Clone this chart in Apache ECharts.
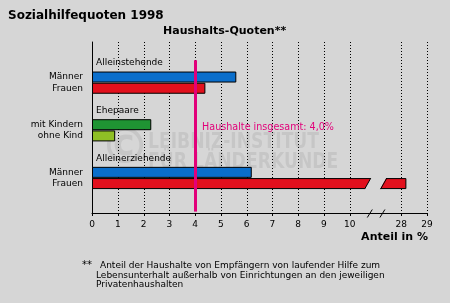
<!DOCTYPE html>
<html><head><meta charset="utf-8">
<script src="https://cdn.jsdelivr.net/npm/echarts@6/dist/echarts.min.js"></script>
<style>html,body{margin:0;padding:0;background:#d6d6d6}#c{width:450px;height:303px}</style>
</head><body><div id="c"></div>
<script>
// ---------------- data ----------------
const groupLabels = ['Alleinstehende', 'Ehepaare', 'Alleinerziehende'];
const rowLabels = ['Männer', 'Frauen', 'mit Kindern', 'ohne Kind', 'Männer', 'Frauen'];
const rowValues = [5.6, 4.4, 2.3, 0.9, 6.2, 28.2];
const tickLabels = ['0', '1', '2', '3', '4', '5', '6', '7', '8', '9', '10', '', '28', '29'];
const totalValue = 4.0;
const totalLabel = 'Haushalte insgesamt: 4,0%';
const titleText = 'Sozialhilfequoten 1998';
const subtitleText = 'Haushalts-Quoten**';
const axisNameText = 'Anteil in %';
const footnoteLines = [
  'Anteil der Haushalte von Empfängern von laufender Hilfe zum',
  'Lebensunterhalt außerhalb von Einrichtungen an den jeweiligen',
  'Privatenhaushalten'
];

// ---------------- layout / style ----------------
const rowColors = ['#0a6ecb', '#e2101d', '#1f9433', '#8fbf25', '#0a6ecb', '#e2101d'];
const N = 61;                       // fine slots on the category axis
const rowSlots = [12, 16, 29, 33, 46, 50];
const headerSlots = [7, 24, 41];
const refTopSlot = 6, refBottomSlot = 60, refLabelSlot = 30;
const BG = '#d6d6d6';
const MAG = '#e2007a';
const FONT = 'DejaVu Sans';
const WM = 'rgba(0,0,0,0.075)';

// axis break: positions after the empty tick map to values 28, 29
const breakIdx = tickLabels.indexOf('');
const afterBreakStart = Number(tickLabels[breakIdx + 1]);
function toDisplay(v) {
  const lastBefore = Number(tickLabels[breakIdx - 1]);
  return v <= lastBefore ? v : (breakIdx + 1) + (v - afterBreakStart);
}

const ids = Array.from({length: N}, (_, i) => 's' + i);
const rowBySlot = {}, headerBySlot = {};
rowSlots.forEach((s, r) => rowBySlot[ids[s]] = rowLabels[r]);
headerSlots.forEach((s, g) => headerBySlot[ids[s]] = groupLabels[g]);

const barData = ids.map(() => '-');
rowSlots.forEach((s, r) => {
  barData[s] = {value: toDisplay(rowValues[r]), itemStyle: {color: rowColors[r]}};
});

const splitVals = tickLabels.map((t, i) => (t !== '' && i > 0) ? i : null).filter(v => v !== null);

const chart = echarts.init(document.getElementById('c'), null, {renderer: 'canvas'});

const tStyle = (size, weight) => ({fontFamily: FONT, fontSize: size, fontWeight: weight, color: '#000'});

chart.setOption({
  backgroundColor: BG,
  animation: false,
  title: [
    {text: titleText, left: 8, top: 10, padding: 0, textStyle: tStyle(12, 'bold')},
    {text: subtitleText, left: 163, top: 26, padding: 0, textStyle: tStyle(11, 'bold')},
    {text: axisNameText, right: 22, top: 232, padding: 0, textStyle: tStyle(11, 'bold')},
    {text: '**', left: 82, top: 260, padding: 0, textStyle: tStyle(10, 'normal')},
    {text: footnoteLines[0], left: 100, top: 261, padding: 0, textStyle: tStyle(9, 'normal')},
    {text: footnoteLines[1], left: 96, top: 271, padding: 0, textStyle: tStyle(9, 'normal')},
    {text: footnoteLines[2], left: 96, top: 280.5, padding: 0, textStyle: tStyle(9, 'normal')}
  ],
  graphic: [
    {type: 'text', z: 0, left: 100, top: 125,
     style: {text: '\u00a9', font: 'bold 50px "DejaVu Sans"', fill: WM}},
    {type: 'text', z: 0, x: 148, y: 131, scaleX: 0.86, scaleY: 1.1,
     style: {text: 'LEIBNIZ-INSTITUT', font: 'bold 20px "DejaVu Sans"', fill: WM}},
    {type: 'text', z: 0, x: 148, y: 151, scaleX: 0.86, scaleY: 1.1,
     style: {text: 'FÜR LÄNDERKUNDE', font: 'bold 20px "DejaVu Sans"', fill: WM}}
  ],
  grid: {left: 92, right: 23, top: 42, bottom: 90, containLabel: false},
  xAxis: {
    type: 'value', min: 0, max: tickLabels.length - 1, interval: 1,
    axisLine: {show: true, lineStyle: {color: '#000', width: 1}},
    axisTick: {show: false},
    splitLine: {show: false},
    axisLabel: {margin: 7, fontFamily: FONT, fontSize: 9, color: '#000',
      formatter: v => tickLabels[Math.round(v)] || ''}
  },
  yAxis: [
    {type: 'category', data: ids, inverse: true,
     axisLine: {show: true, lineStyle: {color: '#000', width: 1}},
     axisTick: {show: false}, splitLine: {show: false},
     axisLabel: {interval: 0, margin: 9, fontFamily: FONT, fontSize: 9, color: '#000',
       formatter: v => rowBySlot[v] || ''}},
    {type: 'category', data: ids, inverse: true, position: 'left', offset: 0,
     axisLine: {show: false}, axisTick: {show: false}, splitLine: {show: false},
     axisLabel: {inside: true, interval: 0, margin: 4, fontFamily: FONT, fontSize: 9, color: '#000',
       formatter: v => headerBySlot[v] || ''}}
  ],
  series: [
    {
      type: 'custom', name: 'grid', z: 1, yAxisIndex: 0, silent: true,
      data: [[0, ids[0]]],
      renderItem: (params, api) => {
        const cs = params.coordSys;
        const bottom = cs.y + cs.height;
        const top = cs.y;
        const X = v => api.coord([v, ids[0]])[0];
        const ch = [];
        splitVals.forEach(v => {
          const x = Math.round(X(v)) + 0.5;
          ch.push({type: 'line', shape: {x1: x, y1: top, x2: x, y2: bottom},
            style: {stroke: '#000', lineWidth: 1, lineDash: [1, 2]}});
        });
        return {type: 'group', children: ch};
      }
    },
    {
      type: 'bar', name: 'Quote', yAxisIndex: 0, z: 3,
      barWidth: 11, data: barData,
      itemStyle: {borderColor: '#000', borderWidth: 1}
    },
    {
      type: 'custom', name: 'break', z: 4, yAxisIndex: 0, silent: true,
      data: [[0, ids[rowSlots[5]]]],
      renderItem: (params, api) => {
        const cs = params.coordSys;
        const bottom = cs.y + cs.height;
        const X = v => api.coord([v, ids[0]])[0];
        const by = api.coord([0, ids[rowSlots[5]]])[1];
        const t = by - 6.5, b = by + 6.5;
        const ch = [];
        // bar break
        ch.push({type: 'polygon', shape: {points: [[X(10.84), t], [X(11.44), t], [X(11.16), b], [X(10.56), b]]},
          style: {fill: BG}});
        ch.push({type: 'line', shape: {x1: X(10.82), y1: t + 1, x2: X(10.58), y2: b - 1}, style: {stroke: '#000', lineWidth: 1}});
        ch.push({type: 'line', shape: {x1: X(11.44), y1: t + 1, x2: X(11.2), y2: b - 1}, style: {stroke: '#000', lineWidth: 1}});
        // axis ticks
        tickLabels.forEach((lab, i) => {
          if (lab === '') return;
          const x = Math.round(X(i)) + 0.5;
          ch.push({type: 'line', shape: {x1: x, y1: bottom, x2: x, y2: bottom + 3}, style: {stroke: '#000', lineWidth: 1}});
        });
        // axis break slashes
        [10.78, 11.27].forEach(v => {
          const x = X(v);
          ch.push({type: 'line', shape: {x1: x - 2.5, y1: bottom + 4.5, x2: x + 2.5, y2: bottom - 3.5}, style: {stroke: '#000', lineWidth: 1}});
        });
        return {type: 'group', children: ch};
      }
    },
    {
      type: 'line', name: 'ref', yAxisIndex: 0, z: 5, data: [], silent: true,
      markLine: {
        silent: true, symbol: ['none', 'none'], animation: false,
        label: {show: false},
        lineStyle: {color: MAG, width: 3, type: 'solid'},
        data: [[{coord: [totalValue, ids[refTopSlot]]}, {coord: [totalValue, ids[refBottomSlot]]}]]
      },
      markPoint: {
        silent: true, symbol: 'circle', symbolSize: 0, animation: false,
        label: {show: true, position: 'right', distance: 7, formatter: totalLabel,
          fontFamily: FONT, fontSize: 9.6, color: MAG},
        data: [{coord: [totalValue, ids[refLabelSlot]]}]
      }
    }
  ]
});
</script>
</body></html>
